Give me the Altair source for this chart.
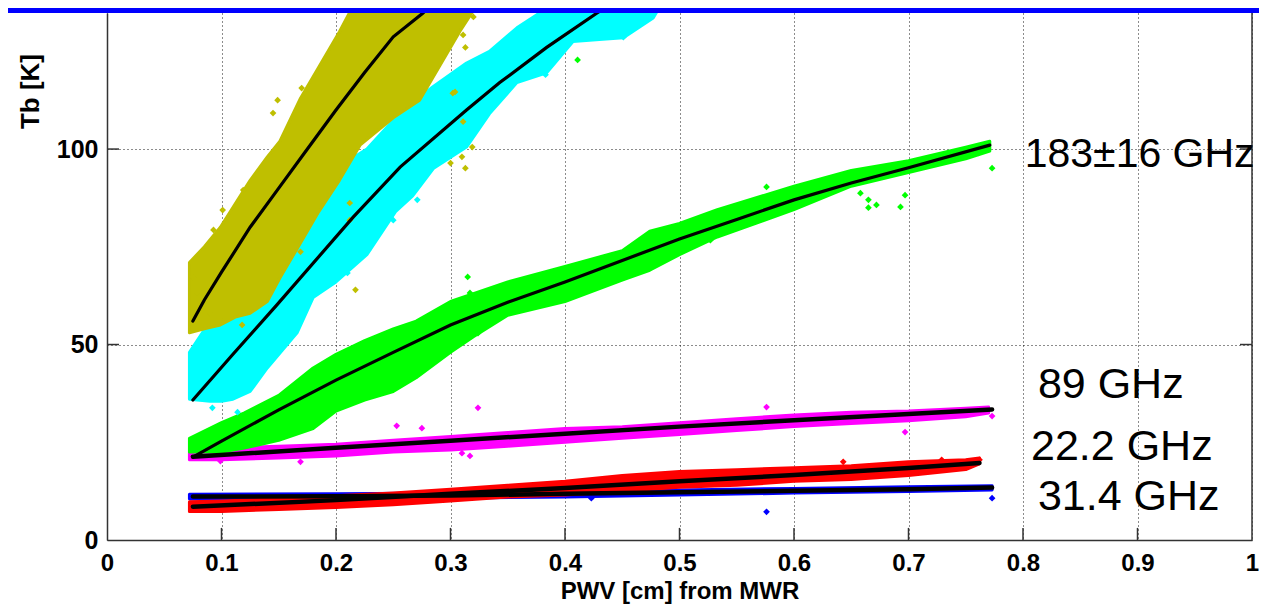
import altair as alt
import pandas as pd

# ---------------- data ----------------
# cloud envelopes: x, upper edge, lower edge
olive_x  = [0.072, 0.085, 0.099, 0.112, 0.125, 0.14, 0.151, 0.169, 0.185, 0.203, 0.221, 0.25, 0.273, 0.29, 0.308, 0.33]
olive_hi = [71, 75, 80, 86, 92, 98, 102, 113, 121, 130, 140, 140, 140, 140, 140, 140]
olive_lo = [53, 54, 55, 57, 58, 61, 67, 76, 84, 92, 101, 108, 112.5, 121, 130, 140]

cyan_x  = [0.072, 0.09, 0.10, 0.11, 0.125, 0.14, 0.166, 0.18, 0.2, 0.227, 0.252, 0.267, 0.285, 0.314, 0.334, 0.358, 0.384, 0.407, 0.43, 0.451, 0.477, 0.49]
cyan_hi = [48, 56, 61, 62, 63, 69, 80, 88, 95, 100, 108, 112, 116, 122, 125, 131, 136, 140, 140, 140, 140, 140]
cyan_lo = [36, 35.5, 35.5, 36, 38, 44, 53, 62, 66, 73, 84, 88, 95, 100.5, 109, 117, 119.5, 127.5, 128, 128.5, 133.5, 140]

green_x  = [0.072, 0.1, 0.12, 0.15, 0.18, 0.2, 0.225, 0.25, 0.27, 0.3, 0.32, 0.35, 0.4, 0.45, 0.474, 0.5, 0.533, 0.6, 0.65, 0.7, 0.75, 0.771]
green_hi = [26, 30, 32.5, 37, 44, 47.5, 51, 54, 56, 61, 63, 66, 70, 74, 79, 81, 84.5, 90.5, 94.5, 97, 100.5, 102]
green_lo = [22.5, 22.5, 23.5, 25.5, 28.5, 33, 35.8, 38, 41.5, 48, 52, 57.5, 61, 66.5, 69, 73, 77.5, 84.5, 90.5, 94, 97.5, 99.5]

magenta_x  = [0.072, 0.1, 0.15, 0.2, 0.25, 0.3, 0.35, 0.4, 0.45, 0.5, 0.55, 0.6, 0.65, 0.7, 0.75, 0.77]
magenta_hi = [22.5, 23.5, 24, 24.5, 25.5, 26.5, 27.5, 28.5, 29, 30, 31, 32, 32.7, 33, 33.7, 34]
magenta_lo = [20.5, 20.5, 21, 21.5, 22.5, 23, 24, 25, 26, 27, 28, 29, 29.8, 30.5, 31.5, 32.5]

red_x  = [0.072, 0.1, 0.15, 0.2, 0.25, 0.3, 0.35, 0.4, 0.45, 0.5, 0.55, 0.6, 0.65, 0.7, 0.75, 0.762]
red_hi = [9.8, 10, 10.5, 11.3, 12, 13, 14, 15, 16.5, 17.5, 18, 18.5, 19, 20, 20.5, 21]
red_lo = [7.3, 7.3, 7.8, 8.3, 9, 10, 11, 11.5, 12.5, 13.5, 14, 15, 15.5, 16.5, 18, 19.5]

blue_x  = [0.072, 0.2, 0.3, 0.4, 0.5, 0.6, 0.7, 0.773]
blue_hi = [11.7, 11.8, 12.0, 12.4, 12.8, 13.2, 13.6, 13.9]
blue_lo = [10.5, 10.6, 10.7, 11.0, 11.5, 12.0, 12.4, 12.8]

# scattered outlier / edge points
olive_out_x = [0.149, 0.145, 0.17, 0.119, 0.101, 0.079, 0.313, 0.311, 0.304, 0.311, 0.31, 0.313, 0.212, 0.212, 0.169, 0.217, 0.319, 0.32, 0.302, 0.3, 0.09, 0.099, 0.118, 0.093, 0.075]
olive_out_y = [112.5, 109.2, 115.6, 89.5, 84.4, 63.2, 126, 129.2, 114.6, 107, 98, 95.1, 86.2, 81.8, 73.7, 64, 100.5, 133.8, 114.3, 96.4, 58, 56.3, 55, 79.3, 67.3]
cyan_out_x = [0.31, 0.451, 0.383, 0.228, 0.092, 0.114, 0.131, 0.079, 0.271, 0.25, 0.227, 0.21]
cyan_out_y = [117.6, 128.6, 119, 74.2, 33.8, 32.7, 43, 43.5, 87, 81.8, 76.7, 68.3]
green_out_x = [0.658, 0.665, 0.665, 0.672, 0.693, 0.697, 0.773, 0.576, 0.527, 0.761, 0.411, 0.315, 0.317, 0.14, 0.266, 0.324]
green_out_y = [88.7, 87, 85, 85.7, 85.2, 88.2, 95.1, 90.3, 76.7, 99, 122.8, 67.3, 63.2, 26.3, 43, 52.9]
magenta_out_x = [0.324, 0.253, 0.275, 0.31, 0.317, 0.099, 0.169, 0.576, 0.697, 0.773]
magenta_out_y = [33.8, 29.2, 28.6, 22.2, 21.5, 20.2, 20, 34, 27.6, 31.7]
red_out_x = [0.643, 0.729, 0.762]
red_out_y = [20, 20.5, 20.5]
blue_out_x = [0.576, 0.773, 0.423]
blue_out_y = [7.2, 10.7, 10.7]

# fitted curves
olive_fit_x = [0.075, 0.085, 0.1, 0.125, 0.15, 0.175, 0.2, 0.225, 0.25, 0.276, 0.3]
olive_fit_y = [56, 61.4, 68.5, 80, 90, 100, 110, 119.6, 128.7, 134.8, 142]
cyan_fit_x = [0.075, 0.11, 0.148, 0.215, 0.256, 0.314, 0.343, 0.384, 0.428, 0.45]
cyan_fit_y = [35.8, 47.5, 60, 82.6, 95.4, 110, 117, 126, 134.8, 139]
green_fit_x = [0.075, 0.1, 0.15, 0.2, 0.25, 0.3, 0.35, 0.4, 0.45, 0.5, 0.55, 0.6, 0.65, 0.7, 0.771]
green_fit_y = [21.2, 25.3, 33.3, 40.9, 48, 55, 60.8, 66, 71.5, 77, 82, 87, 91.3, 95.2, 101]
magenta_fit_x = [0.075, 0.2, 0.3, 0.4, 0.5, 0.6, 0.7, 0.773]
magenta_fit_y = [21.3, 23.6, 25.4, 27.2, 29, 30.6, 32.2, 33.4]
red_fit_x = [0.075, 0.2, 0.3, 0.4, 0.5, 0.6, 0.7, 0.762]
red_fit_y = [8.5, 10.2, 11.8, 13.3, 15, 16.6, 18.4, 19.7]
blue_fit_x = [0.075, 0.2, 0.3, 0.4, 0.5, 0.6, 0.7, 0.773]
blue_fit_y = [11.1, 11.2, 11.4, 11.8, 12.2, 12.6, 13.0, 13.4]

# axes / labels
x_ticks = [0, 0.1, 0.2, 0.3, 0.4, 0.5, 0.6, 0.7, 0.8, 0.9, 1]
y_ticks = [0, 50, 100]
x_domain = [0, 1]
y_domain = [0, 134.8]
freq_labels = ["183±16 GHz", "89 GHz", "22.2 GHz", "31.4 GHz"]
label_x = [0.8015, 0.813, 0.807, 0.813]
label_y = [95.4, 36.3, 20.5, 7.7]
label_size = [41, 43, 43, 43]

# ---------------- styling ----------------
W, H = 1145, 527
FONT = "Liberation Sans"
AX = "#333333"
xs = alt.Scale(domain=x_domain, nice=False, zero=False)
ys = alt.Scale(domain=y_domain, nice=False, zero=False)

x_axis = alt.Axis(values=x_ticks, labelExpr="datum.value == 0 ? '0' : datum.value == 1 ? '1' : format(datum.value, '.1f')",
                  labelFlush=False, ticks=False,
                  labelFont=FONT, labelFontSize=24, labelFontWeight="bold", labelColor="black",
                  labelPadding=11, domainColor=AX, domainWidth=1.5,
                  grid=True, gridColor="black", gridDash=[1, 3], gridWidth=1, gridOpacity=0.9,
                  title="PWV [cm] from MWR", titleFont=FONT, titleFontSize=24,
                  titleFontWeight="bold", titleColor="black", titleY=58,
                  titleBaseline="alphabetic")
y_axis = alt.Axis(values=y_ticks, format="d", ticks=False,
                  labelFont=FONT, labelFontSize=25, labelFontWeight="bold", labelColor="black",
                  labelPadding=9, domainColor=AX, domainWidth=1.5,
                  grid=True, gridColor="black", gridDash=[1, 3], gridWidth=1, gridOpacity=0.9,
                  title="Tb [K]", titleFont=FONT, titleFontSize=26, titleFontWeight="bold",
                  titleColor="black", titleX=-77, titleY=78, titleAlign="center",
                  titleBaseline="middle")


def X(field="x"):
    return alt.X(f"{field}:Q", scale=xs, axis=x_axis)


def Y(field="y"):
    return alt.Y(f"{field}:Q", scale=ys, axis=y_axis)


series = [
    ("blue", "#0000FF", blue_x, blue_hi, blue_lo, blue_out_x, blue_out_y),
    ("red", "#FF0000", red_x, red_hi, red_lo, red_out_x, red_out_y),
    ("magenta", "#FF00FF", magenta_x, magenta_hi, magenta_lo, magenta_out_x, magenta_out_y),
    ("green", "#00FF00", green_x, green_hi, green_lo, green_out_x, green_out_y),
    ("cyan", "#00FFFF", cyan_x, cyan_hi, cyan_lo, cyan_out_x, cyan_out_y),
    ("olive", "#BFBF00", olive_x, olive_hi, olive_lo, olive_out_x, olive_out_y),
]
fits = [
    (olive_fit_x, olive_fit_y, 3.2),
    (cyan_fit_x, cyan_fit_y, 3.2),
    (green_fit_x, green_fit_y, 3.2),
    (magenta_fit_x, magenta_fit_y, 4.5),
    (red_fit_x, red_fit_y, 4.5),
    (blue_fit_x, blue_fit_y, 4.5),
]

layers = []
for name, col, sx, shi, slo, ox, oy in series:
    band = pd.DataFrame({"x": sx, "y": shi, "y2": slo})
    layers.append(
        alt.Chart(band).mark_area(color=col, opacity=1, clip=True, stroke=col,
                                  strokeWidth=3, strokeJoin="round")
        .encode(x=X(), y=Y(), y2="y2:Q")
    )
    pts = pd.DataFrame({"x": ox, "y": oy})
    layers.append(
        alt.Chart(pts).mark_point(shape="diamond", filled=True, size=45, color=col,
                                  opacity=1, clip=True)
        .encode(x=X(), y=Y())
    )

for fx, fy, sw in fits:
    layers.append(
        alt.Chart(pd.DataFrame({"x": fx, "y": fy})).mark_line(
            color="black", strokeWidth=sw, clip=True, strokeCap="round")
        .encode(x=X(), y=Y())
    )

# inward ticks (MATLAB style) and right frame line
tick_len_y = 3.1
tick_len_x = 0.0105
bt = pd.DataFrame({"x": x_ticks[1:-1], "y": [y_domain[0]] * (len(x_ticks) - 2),
                   "y2": [y_domain[0] + tick_len_y] * (len(x_ticks) - 2)})
layers.append(alt.Chart(bt).mark_rule(color=AX, strokeWidth=1.5)
              .encode(x=X(), y=Y(), y2="y2:Q"))
lt = pd.DataFrame({"x": [x_domain[0]] * 2, "x2": [x_domain[0] + tick_len_x] * 2, "y": y_ticks[1:]})
layers.append(alt.Chart(lt).mark_rule(color=AX, strokeWidth=1.5)
              .encode(x=X(), x2="x2:Q", y=Y()))
rt = pd.DataFrame({"x": [x_domain[1] - tick_len_x] * 2, "x2": [x_domain[1]] * 2, "y": y_ticks[1:]})
layers.append(alt.Chart(rt).mark_rule(color=AX, strokeWidth=1.5)
              .encode(x=X(), x2="x2:Q", y=Y()))
rf = pd.DataFrame({"x": [x_domain[1]], "y": [y_domain[0]], "y2": [y_domain[1]]})
layers.append(alt.Chart(rf).mark_rule(color=AX, strokeWidth=1.5)
              .encode(x=X(), y=Y(), y2="y2:Q"))

# frequency labels
lab = pd.DataFrame({"x": label_x, "y": label_y, "t": freq_labels, "s": label_size})
layers.append(
    alt.Chart(lab).mark_text(align="left", baseline="alphabetic", font=FONT,
                             color="black", clip=False)
    .encode(x=X(), y=Y(), text="t:N", size=alt.Size("s:Q", scale=None, legend=None))
)

# blue header strip
layers.append(
    alt.Chart(pd.DataFrame({"a": [0]})).mark_rect(color="#0000FF")
    .encode(x=alt.value(-99), x2=alt.value(W + 7), y=alt.value(-5), y2=alt.value(0))
)

chart = (
    alt.layer(*layers)
    .properties(width=W, height=H, autosize=alt.AutoSizeParams(type="none"),
                padding={"left": 99, "top": 5, "right": 7, "bottom": 64},
                background="white")
    .configure_view(stroke=None)
)

chart.save("out.html", embed_options={"renderer": "svg", "actions": False})
